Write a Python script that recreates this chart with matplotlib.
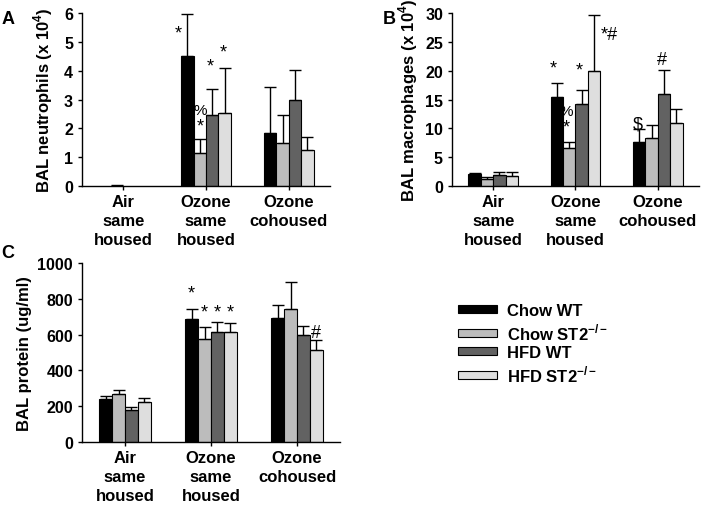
import numpy as np
import matplotlib
matplotlib.use('Agg')
import matplotlib.pyplot as plt

plt.rcParams['font.family'] = ['Liberation Sans', 'DejaVu Sans']
plt.rcParams['mathtext.fontset'] = 'custom'
plt.rcParams['mathtext.rm'] = 'Liberation Sans'
plt.rcParams['mathtext.bf'] = 'Liberation Sans:bold'

# data
groups = ['Air\nsame\nhoused', 'Ozone\nsame\nhoused', 'Ozone\ncohoused']
series = ['Chow WT', r'Chow ST2$^{\mathbf{-/-}}$', 'HFD WT', r'HFD ST2$^{\mathbf{-/-}}$']
colors = ['#000000', '#bcbcbc', '#626262', '#dedede']

# neutrophils (x 10^4): rows = groups, cols = series
neut = [[0.0, 0.01, 0.0, 0.0],
        [4.5, 1.15, 2.47, 2.53],
        [1.85, 1.5, 2.97, 1.25]]
neut_err = [[0.0, 0.02, 0.0, 0.0],
            [1.45, 0.47, 0.91, 1.57],
            [1.57, 0.97, 1.06, 0.44]]

# macrophages (x 10^4)
macro = [[2.0, 1.2, 1.9, 1.7],
         [15.4, 6.6, 14.2, 20.0],
         [7.6, 8.3, 16.0, 10.9]]
macro_err = [[0.2, 0.3, 0.5, 0.7],
             [2.5, 1.0, 2.5, 9.7],
             [2.3, 2.2, 4.2, 2.5]]

# protein (ug/ml)
prot = [[240, 270, 180, 225],
        [688, 578, 615, 617],
        [692, 742, 598, 515]]
prot_err = [[18, 22, 17, 23],
            [57, 64, 57, 48],
            [76, 151, 49, 57]]

# significance marks: (group, bar, text, y, x offset)
notes_a = [(1, 0, '*', 5.3, -0.115), (1, 1, '%', 2.62, 0.0), (1, 1, '*', 2.08, 0.0),
           (1, 2, '*', 4.17, -0.03), (1, 3, '*', 4.65, -0.02)]
notes_b = [(1, 0, '*', 20.5, -0.04), (1, 1, '%', 13.0, -0.035), (1, 1, '*', 10.3, -0.035),
           (1, 2, '*', 20.1, -0.025), (1, 3, '*#', 26.2, 0.18),
           (2, 0, '$', 10.8, -0.02), (2, 2, '#', 21.9, -0.025)]
notes_c = [(1, 0, '*', 830, -0.01), (1, 1, '*', 725, 0.0), (1, 2, '*', 725, 0.0),
           (1, 3, '*', 725, 0.0), (2, 3, '#', 610, 0.0)]

w = 0.15
x = np.arange(len(groups))

fig = plt.figure(figsize=(7.09, 5.06), dpi=100)
axA = fig.add_axes([0.1157, 0.6304, 0.3498, 0.3419])
axB = fig.add_axes([0.6375, 0.6304, 0.3484, 0.3419])
axC = fig.add_axes([0.1157, 0.1245, 0.3639, 0.3538])


def draw(ax, vals, errs, notes, ymax, step, ylabel, labx):
    vals = np.array(vals, dtype=float)
    errs = np.array(errs, dtype=float)
    bars = []
    for i in range(4):
        xs = x + (i - 1.5) * w
        h = np.where(vals[:, i] > 0, vals[:, i], np.nan)
        b = ax.bar(xs, h, w, color=colors[i], edgecolor='black',
                   linewidth=0.8, label=series[i], zorder=2)
        ok = errs[:, i] > 0
        ax.errorbar(xs[ok], vals[ok, i], yerr=[np.zeros(ok.sum()), errs[ok, i]], fmt='none',
                    ecolor='black', elinewidth=1.0, capsize=4.5, capthick=1.0, zorder=3)
        bars.append(b)
    for g, i, t, yv, dx in notes:
        fs = 11 if t == '%' else 13
        ax.text(g + (i - 1.5) * w + dx, yv, t, ha='center', va='center',
                fontsize=fs, color='black')
    ax.set_xlim(-0.5, 2.5)
    ax.set_ylim(0, ymax)
    ax.set_yticks(np.arange(0, ymax + step / 2, step))
    ax.set_xticks(x)
    ax.set_xticklabels(groups, fontsize=12, fontweight='bold', linespacing=1.3)
    for lab in ax.get_yticklabels():
        lab.set_fontweight('bold')
        lab.set_fontsize(11.5)
    ax.tick_params(axis='y', length=3, width=1, pad=3.5)
    ax.tick_params(axis='x', length=3, width=1, pad=3)
    for s in ['top', 'right']:
        ax.spines[s].set_visible(False)
    for s in ['left', 'bottom']:
        ax.spines[s].set_linewidth(1.0)
    ax.set_ylabel(ylabel, fontsize=12, fontweight='bold')
    ax.yaxis.set_label_coords(labx, 0.5)
    return bars


draw(axA, neut, neut_err, notes_a, 6, 1, r'BAL neutrophils (x 10$^{\mathbf{4}}$)', -0.11)
draw(axB, macro, macro_err, notes_b, 30, 5, r'BAL macrophages (x 10$^{\mathbf{4}}$)', -0.128)
bars = draw(axC, prot, prot_err, notes_c, 1000, 200, 'BAL protein (ug/ml)', -0.194)

fig.text(8 / 709, 1 - 19 / 506, 'A', fontsize=13, fontweight='bold', ha='center', va='center')
fig.text(389 / 709, 1 - 20 / 506, 'B', fontsize=13, fontweight='bold', ha='center', va='center')
fig.text(8 / 709, 1 - 254 / 506, 'C', fontsize=13, fontweight='bold', ha='center', va='center')

leg = fig.legend(handles=bars, labels=series, loc='upper left',
                 bbox_to_anchor=(458 / 709, 1 - 304 / 506), frameon=False,
                 borderpad=0, borderaxespad=0, handlelength=2.33, handleheight=0.36,
                 handletextpad=0.6, labelspacing=0.2,
                 prop={'size': 12, 'weight': 'bold'})

fig.savefig('out.png', dpi=100)
